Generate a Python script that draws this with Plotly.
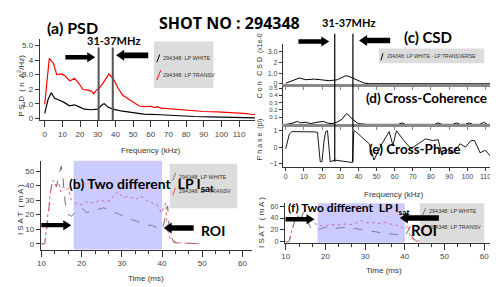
import plotly.graph_objects as go

W, H = 498, 287
def px(x): return x / W
def py(y): return 1 - y / H

# ---------------- data ----------------
psd_red_freq = [0, 1.2, 2.6, 4.9, 6.8, 9.6, 11.5, 14.3, 16.8, 19, 21.7, 24.5, 26.4, 27.7, 29, 31, 33.8, 36.3, 38.5,
                41.4, 44, 46.9, 50.7, 53.5, 56.4, 60, 62, 63.8, 66, 69.4, 75, 82.5, 90, 97.5, 105, 112.6, 119]
psd_red = [0.97, 2.6, 4.12, 3.78, 3.0, 3.05, 2.9, 2.56, 2.75, 2.45, 1.98, 1.94, 1.87, 1.69, 1.9, 2.1, 2.55, 3.04, 2.77,
           2.1, 1.6, 1.37, 1.08, 0.85, 0.81, 0.83, 0.76, 0.79, 0.7, 0.67, 0.6, 0.52, 0.47, 0.45, 0.4, 0.34, 0.25]
psd_blk_freq = [0, 1.9, 3.7, 5.6, 8.4, 11.2, 14, 16.8, 19.6, 22.4, 26.2, 30, 32.8, 33.7, 35.6, 38.5, 43.1, 48.7, 56,
                65.7, 75, 84.5, 94, 103, 112.6, 119]
psd_blk = [0.34, 1.3, 1.76, 1.38, 1.24, 1.08, 0.86, 0.93, 0.79, 0.63, 0.59, 0.63, 0.97, 1.01, 0.79, 0.63, 0.52, 0.41,
           0.29, 0.25, 0.18, 0.13, 0.11, 0.07, 0.07, 0.03]

csd_freq = [0, 2.9, 7.5, 11.1, 15.7, 19.3, 23.9, 28.4, 31.1, 33, 34.8, 37.5, 40.3, 43, 46, 60, 80, 100, 121]
csd_val = [0.06, 0.24, 0.55, 0.39, 0.45, 0.39, 0.3, 0.39, 0.6, 0.76, 0.7, 0.48, 0.3, 0.09, 0.02, 0.02, 0.01, 0.01, 0.01]

coh_freq = [0, 2.9, 6.4, 8.2, 11, 13.7, 17.3, 20.9, 22.7, 25.5, 28.2, 31, 32.8, 33.7, 35.2, 37.3, 40, 45, 62, 64, 66,
            82, 84, 86, 92, 94, 96, 99, 101, 103, 107, 109, 111, 121]
coh_val = [0, 0.01, 0.04, 0.02, 0.03, 0.01, 0.03, 0.04, 0.02, 0.01, 0.03, 0.07, 0.13, 0.15, 0.11, 0.06, 0.01, 0.0, 0.0,
           0.02, 0.0, 0.0, 0.02, 0.0, 0.0, 0.02, 0.0, 0.0, 0.02, 0.0, 0.0, 0.03, 0.0, 0.0]

phase_freq = [0, 2, 3.5, 10, 16, 17.5, 19, 20, 21, 22, 23, 24.5, 27, 36.7, 37.5, 38, 42, 46, 48.6, 53, 57, 59, 61, 65,
              69, 73, 77, 81, 84, 86, 89, 92, 96, 99, 102, 104, 107, 110, 113, 116]
phase_val = [-0.1, 0.8, 0.95, 0.95, 0.93, 0.9, -0.9, -0.9, 0.3, 0.95, 1.0, -0.9, -0.8, -0.95, 0.95, 1.0, 0.6, 0.2, -0.8,
             0.2, 0.95, 0.1, 1.0, 0.4, -0.1, 0.2, 0.5, 0.4, 0.45, -0.5, -0.2, -0.4, 0.2, 0.0, 0.4, 0.4, -0.35, -0.2,
             -0.6, 0.8]

isat_red_t = [10, 10.8, 11.6, 12.5, 13, 13.7, 14.3, 14.8, 15.4, 16.2, 16.7, 17.4, 18.6, 19.9, 21.5, 23.2, 24.4, 26,
              27.3, 28.1, 29.1, 30.2, 31.8, 33.5, 34.7, 35.9, 37.2, 38.8, 39.8, 40.9, 41.3, 42.1, 43.8, 50]
isat_red = [0, 0, 21, 41.4, 43.7, 40.3, 41.9, 35.8, 39.2, 37, 38, 30.2, 27.5, 26.8, 29, 27.9, 30.2, 28.8, 30.2, 33.6,
            35.8, 32, 32.4, 30.6, 32.9, 30.2, 28.4, 26.8, 21.2, 28, 9.9, 3.2, 0.7, 0]
isat_blk_t = [10, 10.8, 11.4, 12.3, 12.8, 13.7, 14.5, 14.9, 15.3, 15.9, 16.7, 17.4, 18.2, 19, 20, 21.3, 22.6, 24.3,
              25.5, 27.3, 29.4, 31.4, 33.5, 35.5, 37.6, 40, 40.6, 41.4, 41.8, 43, 50]
isat_blk = [0, 0, 12.2, 37, 43.7, 39.2, 49.3, 53.2, 46, 27.9, 20, 18.9, 21, 22, 24.6, 21.2, 22.5, 23.6, 24.8, 22.5,
            20.3, 17.3, 15.8, 13.5, 12.4, 9.7, 15.8, 26, 8, 0.7, 0]

band_lo_a, band_hi_a = 30.5, 38.5
band_lo_c, band_hi_c = 27, 37
roi_start, roi_end = 18, 40

legend_a = ["294348: LP WHITE", "294348: LP TRANSV"]
legend_c = "294348: LP WHITE - LP TRANSVERSE"

# ---------------- figure ----------------
fig = go.Figure()
fig.add_trace(go.Scatter(x=psd_blk_freq, y=psd_blk, mode="lines", line=dict(color="black", width=1.2),
                         xaxis="x", yaxis="y"))
fig.add_trace(go.Scatter(x=psd_red_freq, y=psd_red, mode="lines", line=dict(color="red", width=1.2),
                         xaxis="x", yaxis="y"))
for xa, ya in (("x2", "y2"), ("x6", "y6")):
    fig.add_trace(go.Scatter(x=isat_blk_t, y=isat_blk, mode="lines",
                             line=dict(color="#6a6a6a", width=1, dash="dash"), xaxis=xa, yaxis=ya))
    fig.add_trace(go.Scatter(x=isat_red_t, y=isat_red, mode="lines",
                             line=dict(color="#f0607a", width=1, dash="dot"), xaxis=xa, yaxis=ya))
fig.add_trace(go.Scatter(x=csd_freq, y=csd_val, mode="lines", line=dict(color="black", width=1),
                         xaxis="x3", yaxis="y3"))
fig.add_trace(go.Scatter(x=coh_freq, y=coh_val, mode="lines", line=dict(color="black", width=1),
                         xaxis="x4", yaxis="y4"))
fig.add_trace(go.Scatter(x=phase_freq, y=phase_val, mode="lines", line=dict(color="black", width=0.9),
                         xaxis="x5", yaxis="y5"))

tickfont = dict(family="Liberation Sans", size=8, color="#444")
small = dict(family="Liberation Sans", size=7, color="#444")
base = dict(showgrid=False, zeroline=False, showline=True, linecolor="#333", linewidth=1,
            ticks="outside", tickcolor="#333", ticklen=4, tickfont=tickfont)

lay = dict(
    width=W, height=H, margin=dict(l=0, r=0, t=0, b=0), showlegend=False,
    paper_bgcolor="white", plot_bgcolor="white",
    xaxis=dict(base, domain=[px(28), px(245)], range=[-2.8, 119], anchor="y",
               tickvals=list(range(0, 111, 10)), ticklen=6),
    yaxis=dict(base, domain=[py(113), py(30)], range=[-0.14, 5.47], anchor="x",
               tickvals=[0, 1, 2, 3, 4, 5], ticktext=["0", "1.0", "2", "3.0", "4", "5.0"]),
    xaxis2=dict(base, domain=[px(29), px(242)], range=[9.8, 62.4], anchor="y2",
                tickvals=list(range(10, 61, 10)), ticklen=6,
                minor=dict(dtick=10 / 3, ticks="outside", ticklen=3, tickcolor="#333", tick0=10)),
    yaxis2=dict(base, domain=[py(244), py(154)], range=[-4, 57], anchor="x2",
                tickvals=list(range(0, 51, 10))),
    xaxis3=dict(base, domain=[px(273), px(498)], range=[-1.6, 121.3], anchor="y3", showticklabels=False,
                linecolor="#888", linewidth=3, tickvals=list(range(0, 121, 10)), tickcolor="#888", ticklen=3),
    yaxis3=dict(base, domain=[py(76), py(35)], range=[0, 3.75], anchor="x3",
                tickvals=[0, 1, 2, 3], ticktext=["0", "1.0", "2", "3.0"], tickfont=small, ticklen=3),
    xaxis4=dict(base, domain=[px(273), px(498)], range=[-1.6, 121.3], anchor="y4", showticklabels=False,
                linecolor="#888", linewidth=3, tickvals=list(range(0, 121, 10)), tickcolor="#888", ticklen=3),
    yaxis4=dict(base, domain=[py(117), py(78)], range=[0, 0.53], anchor="x4",
                tickvals=[0.1, 0.2, 0.3, 0.4, 0.5], tickfont=dict(small, size=6), ticklen=3),
    xaxis5=dict(base, domain=[px(273), px(498)], range=[-1.6, 121.3], anchor="y5",
                tickvals=list(range(0, 111, 10)), tickfont=small, ticklen=3),
    yaxis5=dict(base, domain=[py(160), py(120)], range=[-1.21, 1.21], anchor="x5",
                tickvals=[-1, 0, 1], tickfont=small, ticklen=3),
    xaxis6=dict(base, domain=[px(275), px(490)], range=[9.75, 63.5], anchor="y6",
                tickvals=list(range(10, 61, 10)), ticklen=6,
                minor=dict(dtick=10 / 3, ticks="outside", ticklen=3, tickcolor="#333", tick0=10)),
    yaxis6=dict(base, domain=[py(237), py(197)], range=[-1.7, 65], anchor="x6",
                tickvals=[0, 20, 40, 60], tickfont=small),
)
fig.update_layout(**lay)

shapes = []
# band lines
for v in (band_lo_a, band_hi_a):
    shapes.append(dict(type="line", xref="x", yref="paper", x0=v, x1=v, y0=py(113), y1=py(39),
                       line=dict(color="#555", width=2)))
for v in (band_lo_c, band_hi_c):
    shapes.append(dict(type="line", xref="x3", yref="paper", x0=v, x1=v, y0=py(155), y1=py(25),
                       line=dict(color="black", width=1.2)))
# ROI shading
for xa, ya in (("x2", "y2"), ("x6", "y6")):
    shapes.append(dict(type="rect", xref=xa, yref=ya + " domain", x0=roi_start, x1=roi_end, y0=0, y1=1,
                       fillcolor="rgba(140,140,255,0.45)", line=dict(width=0), layer="above"))
# legend boxes
boxes = [(143, 33, 203, 80), (159, 157, 227, 202), (370, 40, 476, 55), (411, 197, 476, 237)]
for x0, y0, x1, y1 in boxes:
    shapes.append(dict(type="rect", xref="paper", yref="paper", x0=px(x0), x1=px(x1), y0=py(y1), y1=py(y0),
                       fillcolor="#dcdcdc", line=dict(width=0), layer="above"))
# legend line markers (diagonal ticks)
marks = [(146, 54, 149, 46, "black"), (146, 72, 150, 62, "red"),
         (162, 174, 165, 166, "#777"), (162, 189, 165, 181, "#f0506a"),
         (372, 52, 374, 45, "black"), (414, 209, 417, 202, "#777"), (414, 225, 417, 218, "#f0506a")]
for x0, y0, x1, y1, c in marks:
    shapes.append(dict(type="line", xref="paper", yref="paper", x0=px(x0), x1=px(x1), y0=py(y0), y1=py(y1),
                       line=dict(color=c, width=1), layer="above"))

# arrows as filled polygons (head at tip, length from the axis scale)
def xscale(name):
    ax = lay[name]
    return (ax["domain"][1] - ax["domain"][0]) * W / (ax["range"][1] - ax["range"][0])

def arrow(xname, xr, yr, tip, tail, y, sw=2.2, hw=5, hl=8):
    L = abs(tip - tail) * xscale(xname)
    d = 1 if tip > tail else -1
    pts = [(0, 0), (-d * hl, hw), (-d * hl, sw), (-d * L, sw), (-d * L, -sw), (-d * hl, -sw), (-d * hl, -hw)]
    path = "M " + " L ".join("%.1f,%.1f" % p for p in pts) + " Z"
    shapes.append(dict(type="path", xref=xr, yref=yr, xsizemode="pixel", ysizemode="pixel",
                       xanchor=tip, yanchor=y, path=path, fillcolor="black", line=dict(width=0),
                       layer="above"))

arrow("xaxis", "x", "y", 28.6, 11.8, 4.19)
arrow("xaxis", "x", "y", 40.4, 58.4, 4.32, sw=2.8, hw=5.5)
arrow("xaxis3", "x3", "paper", 24, 7.1, py(33))
arrow("xaxis3", "x3", "paper", 40.4, 57.4, py(32), sw=2.8, hw=5.5)
arrow("xaxis2", "x2", "y2", 17.4, 10, 12.8)
arrow("xaxis2", "x2", "y2", 40.4, 47.8, 10.8, sw=2.8, hw=5.5)
arrow("xaxis6", "x6", "y6", 17.25, 10, 38)
arrow("xaxis6", "x6", "y6", 38.75, 48.5, 40, sw=2.8, hw=5.5)
fig.update_layout(shapes=shapes)

ann = []
def text(x, y, s, size, bold=True, color="black", family="Lato", angle=0, xanchor="center"):
    ann.append(dict(xref="paper", yref="paper", x=px(x), y=py(y), text=("<b>%s</b>" % s) if bold else s,
                    showarrow=False, font=dict(family=family, size=size, color=color),
                    xanchor=xanchor, yanchor="middle", textangle=angle))

text(61, 19, "(a) PSD", 16)
text(219, 14, "SHOT NO : 294348", 16, family="Open Sans")
text(102, 32, "31-37MHz", 11)
text(339, 14, "31-37MHz", 11)
text(419, 28, "(c) CSD", 15)
text(418, 90, "(d) Cross-Coherence", 13.5)
text(406, 142, "(e) Cross-Phase", 13.5)
text(131, 178, "(b) Two different  LP I<sub>sat</sub>", 14)
text(203, 225, "ROI", 14)
text(340, 202, "(f) Two different  LP I<sub>sat</sub>", 12)
text(415, 224, "ROI", 15)
# axis titles
ax_font = "Liberation Sans"
text(140, 143, "Frequency (kHz)", 8, bold=False, color="#333", family=ax_font)
text(385, 188, "Frequency (kHz)", 8, bold=False, color="#333", family=ax_font)
text(135, 273, "Time (ms)", 8, bold=False, color="#333", family=ax_font)
text(375, 265, "Time (ms)", 8, bold=False, color="#333", family=ax_font)
text(9, 78, "P S D  ( n  A<sup>2</sup>/Hz)", 8, bold=False, color="#333", family=ax_font, angle=-90)
text(8, 203, "I S A T  ( m A )", 8, bold=False, color="#333", family=ax_font, angle=-90)
text(252, 216, "I S A T  ( m A )", 8, bold=False, color="#333", family=ax_font, angle=-90)
text(250, 57, "C o h   C S D  (x1e-0", 7, bold=False, color="#333", family=ax_font, angle=-90)
text(250, 132, "P h a s e  (pi)", 7, bold=False, color="#333", family=ax_font, angle=-90)
# legend texts
lf = dict(size=5.5, bold=False, color="#333", family=ax_font, xanchor="left")
text(150, 50, legend_a[0], **lf)
text(150, 67, legend_a[1], **lf)
text(166, 170, legend_a[0], **lf)
text(166, 185, legend_a[1], **lf)
text(376, 48, legend_c, **dict(lf, size=5))
text(418, 205, legend_a[0], **lf)
text(418, 221, legend_a[1], **lf)

fig.update_layout(annotations=ann)
fig.write_html("out.html")
